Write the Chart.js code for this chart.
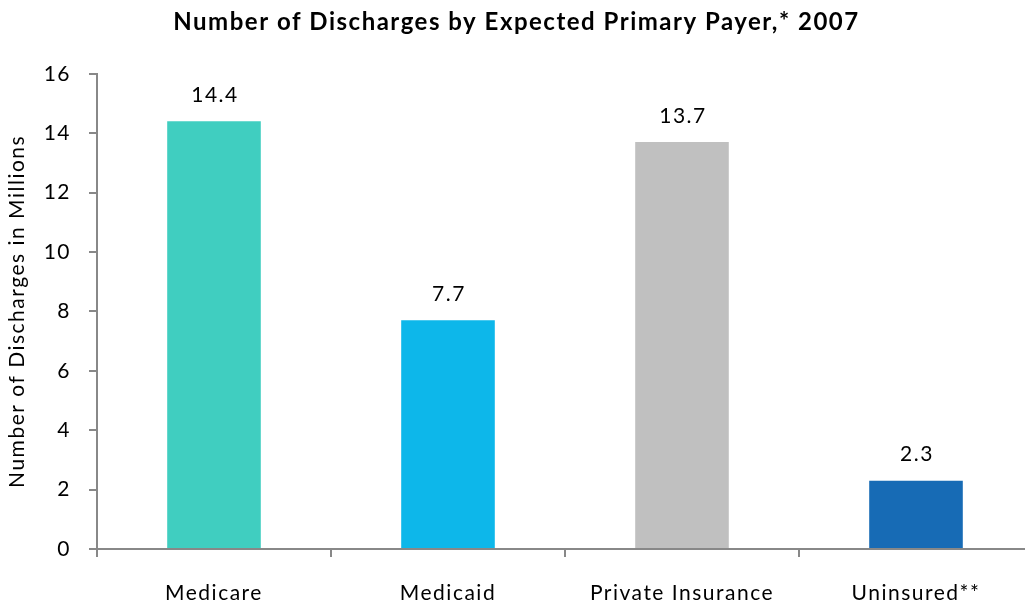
<!DOCTYPE html>
<html>
<head>
<meta charset="utf-8">
<script src="https://cdn.jsdelivr.net/npm/chart.js@4"></script>
<style>
html,body{margin:0;padding:0;background:#fff;overflow:hidden;width:1025px;height:606px;}
#wrap{width:1035px;height:606px;position:relative;}
</style>
</head>
<body>
<div id="wrap"><canvas id="c" width="1035" height="606"></canvas></div>
<script>
const categories = ["Medicare", "Medicaid", "Private Insurance", "Uninsured**"];
const values = [14.4, 7.7, 13.7, 2.3];
const valueLabels = ["14.4", "7.7", "13.7", "2.3"];
const barColors = ["#40CEC0", "#0DB7EA", "#C0C0C0", "#176BB5"];
const yTicks = [0, 2, 4, 6, 8, 10, 12, 14, 16];

const FONT = "Lato, 'Liberation Sans', sans-serif";

const spacingPlugin = {
  id: 'spacing',
  beforeDraw(chart) { chart.ctx.letterSpacing = '1.5px'; }
};

const labelPlugin = {
  id: 'valueLabels',
  afterDatasetsDraw(chart) {
    const ctx = chart.ctx;
    const meta = chart.getDatasetMeta(0);
    ctx.save();
    ctx.letterSpacing = '1.5px';
    ctx.font = "21px " + FONT;
    ctx.fillStyle = "#000";
    ctx.textAlign = "center";
    ctx.textBaseline = "middle";
    meta.data.forEach((bar, i) => {
      ctx.fillText(valueLabels[i], bar.x + 1, bar.y - 26);
    });
    ctx.restore();
  }
};

new Chart(document.getElementById('c'), {
  type: 'bar',
  data: {
    labels: categories,
    datasets: [{
      data: values,
      backgroundColor: barColors,
      borderWidth: 0,
      barPercentage: 0.4,
      categoryPercentage: 1.0
    }]
  },
  options: {
    responsive: false,
    animation: false,
    devicePixelRatio: 1,
    layout: { padding: { left: 0, right: 2, top: 0, bottom: 0 } },
    plugins: {
      legend: { display: false },
      tooltip: { enabled: false },
      title: {
        display: true,
        text: "Number of Discharges by Expected Primary Payer,* 2007",
        color: "#000",
        font: { family: FONT, size: 24, weight: 'bold', lineHeight: 1.2 },
        padding: { top: 8, bottom: 37 }
      }
    },
    scales: {
      x: {
        grid: { display: true, drawOnChartArea: false, drawTicks: true, tickLength: 8, color: "#888", lineWidth: 2 },
        border: { display: true, color: "#888", width: 2 },
        ticks: { color: "#000", font: { family: FONT, size: 21 }, padding: 24, maxRotation: 0 },
        afterFit(scale) { scale.height = 57; }
      },
      y: {
        min: 0, max: 16,
        afterBuildTicks(scale) { scale.ticks = yTicks.map(v => ({ value: v })); },
        grid: { display: true, drawOnChartArea: false, drawTicks: true, tickLength: 8, color: "#888", lineWidth: 2 },
        border: { display: true, color: "#888", width: 2 },
        ticks: { color: "#000", font: { family: FONT, size: 21 }, padding: 18 },
        title: {
          display: true,
          text: "Number of Discharges in Millions",
          color: "#000",
          font: { family: FONT, size: 21 },
          padding: { top: 5, bottom: 0 }
        },
        afterFit(scale) { scale.width = 97; }
      }
    }
  },
  plugins: [spacingPlugin, labelPlugin]
});
</script>
</body>
</html>
